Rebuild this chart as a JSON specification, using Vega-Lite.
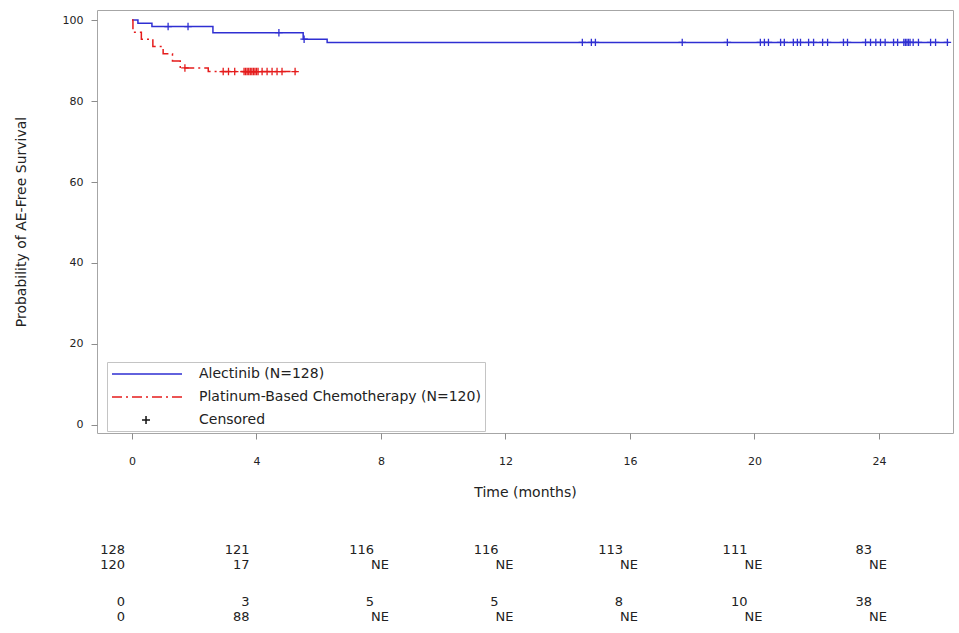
{
  "$schema": "https://vega.github.io/schema/vega-lite/v6.json",
  "width": 856,
  "height": 423,
  "autosize": {"type": "none"},
  "padding": {"left": 97, "top": 10, "right": 6, "bottom": 200},
  "background": "white",
  "config": {
    "font": "DejaVu Sans",
    "view": {"stroke": "#a6a6a6", "strokeWidth": 1},
    "axis": {
      "labelFont": "DejaVu Sans",
      "titleFont": "DejaVu Sans",
      "labelColor": "#222222",
      "titleColor": "#222222",
      "tickColor": "#8c8c8c",
      "domain": false,
      "grid": false,
      "titleFontWeight": "normal"
    }
  },
  "datasets": {
    "curve": [
      {"series": "Alectinib (N=128)", "time": 0, "surv": 100},
      {"series": "Alectinib (N=128)", "time": 0.19, "surv": 99.2},
      {"series": "Alectinib (N=128)", "time": 0.64, "surv": 98.4},
      {"series": "Alectinib (N=128)", "time": 2.6, "surv": 96.9},
      {"series": "Alectinib (N=128)", "time": 5.5, "surv": 95.3},
      {"series": "Alectinib (N=128)", "time": 6.27, "surv": 94.5},
      {"series": "Alectinib (N=128)", "time": 26.24, "surv": 94.5},
      {"series": "Platinum-Based Chemotherapy (N=120)", "time": 0, "surv": 100},
      {"series": "Platinum-Based Chemotherapy (N=120)", "time": 0.03, "surv": 97.0},
      {"series": "Platinum-Based Chemotherapy (N=120)", "time": 0.3, "surv": 95.3},
      {"series": "Platinum-Based Chemotherapy (N=120)", "time": 0.67, "surv": 93.5},
      {"series": "Platinum-Based Chemotherapy (N=120)", "time": 1.0, "surv": 91.7},
      {"series": "Platinum-Based Chemotherapy (N=120)", "time": 1.3, "surv": 89.9},
      {"series": "Platinum-Based Chemotherapy (N=120)", "time": 1.55, "surv": 88.2},
      {"series": "Platinum-Based Chemotherapy (N=120)", "time": 2.45, "surv": 87.3},
      {"series": "Platinum-Based Chemotherapy (N=120)", "time": 5.3, "surv": 87.3}
    ],
    "censor": [
      {"series": "Alectinib (N=128)", "time": 1.16, "surv": 98.4},
      {"series": "Alectinib (N=128)", "time": 1.8, "surv": 98.4},
      {"series": "Alectinib (N=128)", "time": 4.72, "surv": 96.9},
      {"series": "Alectinib (N=128)", "time": 5.53, "surv": 95.3},
      {"series": "Alectinib (N=128)", "time": 14.47, "surv": 94.5},
      {"series": "Alectinib (N=128)", "time": 14.76, "surv": 94.5},
      {"series": "Alectinib (N=128)", "time": 14.89, "surv": 94.5},
      {"series": "Alectinib (N=128)", "time": 17.68, "surv": 94.5},
      {"series": "Alectinib (N=128)", "time": 19.13, "surv": 94.5},
      {"series": "Alectinib (N=128)", "time": 20.19, "surv": 94.5},
      {"series": "Alectinib (N=128)", "time": 20.32, "surv": 94.5},
      {"series": "Alectinib (N=128)", "time": 20.45, "surv": 94.5},
      {"series": "Alectinib (N=128)", "time": 20.84, "surv": 94.5},
      {"series": "Alectinib (N=128)", "time": 20.96, "surv": 94.5},
      {"series": "Alectinib (N=128)", "time": 21.25, "surv": 94.5},
      {"series": "Alectinib (N=128)", "time": 21.38, "surv": 94.5},
      {"series": "Alectinib (N=128)", "time": 21.48, "surv": 94.5},
      {"series": "Alectinib (N=128)", "time": 21.74, "surv": 94.5},
      {"series": "Alectinib (N=128)", "time": 21.9, "surv": 94.5},
      {"series": "Alectinib (N=128)", "time": 22.19, "surv": 94.5},
      {"series": "Alectinib (N=128)", "time": 22.35, "surv": 94.5},
      {"series": "Alectinib (N=128)", "time": 22.86, "surv": 94.5},
      {"series": "Alectinib (N=128)", "time": 22.99, "surv": 94.5},
      {"series": "Alectinib (N=128)", "time": 23.57, "surv": 94.5},
      {"series": "Alectinib (N=128)", "time": 23.73, "surv": 94.5},
      {"series": "Alectinib (N=128)", "time": 23.9, "surv": 94.5},
      {"series": "Alectinib (N=128)", "time": 24.05, "surv": 94.5},
      {"series": "Alectinib (N=128)", "time": 24.2, "surv": 94.5},
      {"series": "Alectinib (N=128)", "time": 24.47, "surv": 94.5},
      {"series": "Alectinib (N=128)", "time": 24.6, "surv": 94.5},
      {"series": "Alectinib (N=128)", "time": 24.8, "surv": 94.5},
      {"series": "Alectinib (N=128)", "time": 24.85, "surv": 94.5},
      {"series": "Alectinib (N=128)", "time": 24.9, "surv": 94.5},
      {"series": "Alectinib (N=128)", "time": 24.95, "surv": 94.5},
      {"series": "Alectinib (N=128)", "time": 25.0, "surv": 94.5},
      {"series": "Alectinib (N=128)", "time": 25.1, "surv": 94.5},
      {"series": "Alectinib (N=128)", "time": 25.27, "surv": 94.5},
      {"series": "Alectinib (N=128)", "time": 25.66, "surv": 94.5},
      {"series": "Alectinib (N=128)", "time": 25.82, "surv": 94.5},
      {"series": "Alectinib (N=128)", "time": 26.2, "surv": 94.5},
      {"series": "Platinum-Based Chemotherapy (N=120)", "time": 1.7, "surv": 88.2},
      {"series": "Platinum-Based Chemotherapy (N=120)", "time": 2.93, "surv": 87.3},
      {"series": "Platinum-Based Chemotherapy (N=120)", "time": 3.1, "surv": 87.3},
      {"series": "Platinum-Based Chemotherapy (N=120)", "time": 3.3, "surv": 87.3},
      {"series": "Platinum-Based Chemotherapy (N=120)", "time": 3.6, "surv": 87.3},
      {"series": "Platinum-Based Chemotherapy (N=120)", "time": 3.65, "surv": 87.3},
      {"series": "Platinum-Based Chemotherapy (N=120)", "time": 3.7, "surv": 87.3},
      {"series": "Platinum-Based Chemotherapy (N=120)", "time": 3.75, "surv": 87.3},
      {"series": "Platinum-Based Chemotherapy (N=120)", "time": 3.8, "surv": 87.3},
      {"series": "Platinum-Based Chemotherapy (N=120)", "time": 3.85, "surv": 87.3},
      {"series": "Platinum-Based Chemotherapy (N=120)", "time": 3.9, "surv": 87.3},
      {"series": "Platinum-Based Chemotherapy (N=120)", "time": 3.95, "surv": 87.3},
      {"series": "Platinum-Based Chemotherapy (N=120)", "time": 4.0, "surv": 87.3},
      {"series": "Platinum-Based Chemotherapy (N=120)", "time": 4.05, "surv": 87.3},
      {"series": "Platinum-Based Chemotherapy (N=120)", "time": 4.18, "surv": 87.3},
      {"series": "Platinum-Based Chemotherapy (N=120)", "time": 4.34, "surv": 87.3},
      {"series": "Platinum-Based Chemotherapy (N=120)", "time": 4.5, "surv": 87.3},
      {"series": "Platinum-Based Chemotherapy (N=120)", "time": 4.66, "surv": 87.3},
      {"series": "Platinum-Based Chemotherapy (N=120)", "time": 4.82, "surv": 87.3},
      {"series": "Platinum-Based Chemotherapy (N=120)", "time": 5.24, "surv": 87.3}
    ],
    "table": [
      {"group": "At risk", "arm": "Alectinib", "time": 0, "label": "128"},
      {"group": "At risk", "arm": "Alectinib", "time": 4, "label": "121"},
      {"group": "At risk", "arm": "Alectinib", "time": 8, "label": "116"},
      {"group": "At risk", "arm": "Alectinib", "time": 12, "label": "116"},
      {"group": "At risk", "arm": "Alectinib", "time": 16, "label": "113"},
      {"group": "At risk", "arm": "Alectinib", "time": 20, "label": "111"},
      {"group": "At risk", "arm": "Alectinib", "time": 24, "label": "83"},
      {"group": "At risk", "arm": "Platinum-Based Chemotherapy", "time": 0, "label": "120"},
      {"group": "At risk", "arm": "Platinum-Based Chemotherapy", "time": 4, "label": "17"},
      {"group": "At risk", "arm": "Platinum-Based Chemotherapy", "time": 8, "label": "NE"},
      {"group": "At risk", "arm": "Platinum-Based Chemotherapy", "time": 12, "label": "NE"},
      {"group": "At risk", "arm": "Platinum-Based Chemotherapy", "time": 16, "label": "NE"},
      {"group": "At risk", "arm": "Platinum-Based Chemotherapy", "time": 20, "label": "NE"},
      {"group": "At risk", "arm": "Platinum-Based Chemotherapy", "time": 24, "label": "NE"},
      {"group": "Censored", "arm": "Alectinib", "time": 0, "label": "0"},
      {"group": "Censored", "arm": "Alectinib", "time": 4, "label": "3"},
      {"group": "Censored", "arm": "Alectinib", "time": 8, "label": "5"},
      {"group": "Censored", "arm": "Alectinib", "time": 12, "label": "5"},
      {"group": "Censored", "arm": "Alectinib", "time": 16, "label": "8"},
      {"group": "Censored", "arm": "Alectinib", "time": 20, "label": "10"},
      {"group": "Censored", "arm": "Alectinib", "time": 24, "label": "38"},
      {"group": "Censored", "arm": "Platinum-Based Chemotherapy", "time": 0, "label": "0"},
      {"group": "Censored", "arm": "Platinum-Based Chemotherapy", "time": 4, "label": "88"},
      {"group": "Censored", "arm": "Platinum-Based Chemotherapy", "time": 8, "label": "NE"},
      {"group": "Censored", "arm": "Platinum-Based Chemotherapy", "time": 12, "label": "NE"},
      {"group": "Censored", "arm": "Platinum-Based Chemotherapy", "time": 16, "label": "NE"},
      {"group": "Censored", "arm": "Platinum-Based Chemotherapy", "time": 20, "label": "NE"},
      {"group": "Censored", "arm": "Platinum-Based Chemotherapy", "time": 24, "label": "NE"}
    ]
  },
  "layer": [
    {
      "encoding": {
        "x": {
          "field": "time",
          "type": "quantitative",
          "scale": {"domain": [-1.125, 26.38], "nice": false, "zero": false},
          "axis": {
            "values": [0, 4, 8, 12, 16, 20, 24],
            "title": "Time (months)",
            "tickSize": 6,
            "labelPadding": 16,
            "labelFontSize": 11,
            "titleFontSize": 14,
            "titlePadding": 19
          }
        },
        "y": {
          "field": "surv",
          "type": "quantitative",
          "scale": {"domain": [-2.0, 102.5], "nice": false, "zero": false},
          "axis": {
            "orient": "left",
            "values": [0, 20, 40, 60, 80, 100],
            "title": "Probability of AE-Free Survival",
            "tickSize": 6,
            "labelPadding": 8,
            "labelFontSize": 11,
            "titleFontSize": 14,
            "titlePadding": 34
          }
        },
        "color": {
          "field": "series",
          "type": "nominal",
          "scale": {
            "domain": ["Alectinib (N=128)", "Platinum-Based Chemotherapy (N=120)", "Censored"],
            "range": ["#2f2fd2", "#e51c1c", "#111111"]
          },
          "legend": {
            "title": null,
            "orient": "none",
            "legendX": 10,
            "legendY": 352,
            "symbolSize": 196,
            "symbolStrokeWidth": 1.5,
            "labelOffset": 72,
            "rowPadding": 8,
            "padding": 4,
            "strokeColor": "#c4c4c4",
            "fillColor": "white",
            "labelFontSize": 14,
            "labelFont": "DejaVu Sans",
            "labelColor": "#222222",
            "labelLimit": 500,
            "encode": {
              "symbols": {
                "update": {
                  "shape": {"signal": "datum.value === 'Censored' ? 'M3.29,0H4.43M3.86,-0.57V0.57' : 'M-1,0H9'"},
                  "fill": {"value": "transparent"}
                }
              }
            }
          }
        }
      },
      "layer": [
        {
          "data": {"name": "curve"},
          "mark": {"type": "line", "interpolate": "step-after", "strokeWidth": 1.5},
          "encoding": {
            "strokeDash": {
              "field": "series",
              "type": "nominal",
              "scale": {
                "domain": ["Alectinib (N=128)", "Platinum-Based Chemotherapy (N=120)", "Censored"],
                "range": [[1, 0], [10, 4, 2, 4], [1, 0]]
              }
            }
          }
        },
        {
          "data": {"name": "censor"},
          "mark": {"type": "point", "shape": "M-1,0H1M0,-1V1", "filled": false, "size": 56, "strokeWidth": 1.3, "opacity": 1}
        }
      ]
    },
    {
      "data": {"name": "table"},
      "transform": [{"filter": "datum.group === 'At risk'"}],
      "encoding": {
        "x": {"field": "time", "type": "quantitative"},
        "y": {
          "field": "arm",
          "type": "nominal",
          "scale": {"type": "point", "domain": ["Alectinib", "Platinum-Based Chemotherapy"], "range": [540, 555], "padding": 0},
          "axis": null
        },
        "text": {"field": "label"}
      },
      "layer": [
        {"transform": [{"filter": "datum.label !== 'NE'"}], "mark": {"type": "text", "align": "right", "dx": -7, "fontSize": 13, "baseline": "middle", "color": "#222222"}},
        {"transform": [{"filter": "datum.label === 'NE'"}], "mark": {"type": "text", "align": "center", "dx": -1, "fontSize": 13, "baseline": "middle", "color": "#222222"}}
      ]
    },
    {
      "data": {"name": "table"},
      "transform": [{"filter": "datum.group === 'Censored'"}],
      "encoding": {
        "x": {"field": "time", "type": "quantitative"},
        "y": {
          "field": "arm",
          "type": "nominal",
          "scale": {"type": "point", "domain": ["Alectinib", "Platinum-Based Chemotherapy"], "range": [592, 607], "padding": 0},
          "axis": null
        },
        "text": {"field": "label"}
      },
      "layer": [
        {"transform": [{"filter": "datum.label !== 'NE'"}], "mark": {"type": "text", "align": "right", "dx": -7, "fontSize": 13, "baseline": "middle", "color": "#222222"}},
        {"transform": [{"filter": "datum.label === 'NE'"}], "mark": {"type": "text", "align": "center", "dx": -1, "fontSize": 13, "baseline": "middle", "color": "#222222"}}
      ]
    }
  ],
  "resolve": {"scale": {"y": "independent"}, "axis": {"y": "independent"}}
}
